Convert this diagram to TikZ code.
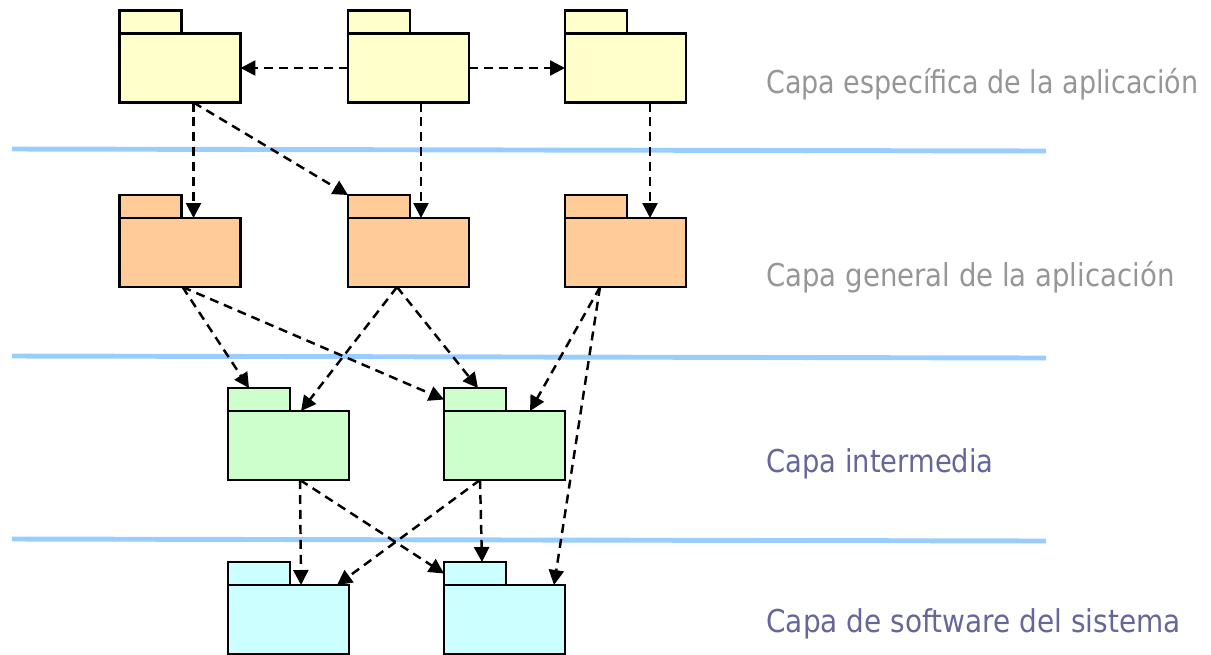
\documentclass[tikz,border=0pt]{standalone}
\usepackage{fontspec}
\newfontfamily\labfont[FakeStretch=0.87]{DejaVu Sans}
\usetikzlibrary{arrows.meta,calc}
\definecolor{pkyel}{HTML}{FFFFCC}
\definecolor{pkora}{HTML}{FFCC99}
\definecolor{pkgrn}{HTML}{CCFFCC}
\definecolor{pkcyn}{HTML}{CCFFFF}
\definecolor{layerblue}{HTML}{99CCFF}
\definecolor{labgray}{HTML}{969696}
\definecolor{labpurple}{HTML}{666699}
\begin{document}
\begin{tikzpicture}[x=0.02cm,y=-0.02cm,
  body/.style={draw=black, line width=1.3pt, minimum width=2.42cm, minimum height=1.38cm, inner sep=0pt, outer sep=0pt},
  tab/.style={draw=black, line width=1.3pt, minimum width=1.24cm, minimum height=0.46cm, inner sep=0pt, outer sep=0pt, anchor=south west},
  dep/.style={line width=1.4pt, dash pattern=on 0.18cm off 0.12cm, -{Triangle[length=0.3cm,width=0.3cm]}},
  layer/.style={draw=layerblue, line width=2.8pt},
  lab/.style={anchor=base west, inner sep=0pt, font={\labfont\fontsize{17.9pt}{21pt}\selectfont}}]
\useasboundingbox (0,0) rectangle (1211,654);
% layer separators
\coordinate (l1a) at (12,149); \coordinate (l1b) at (1046,151);
\coordinate (l2a) at (12,356); \coordinate (l2b) at (1046,358);
\coordinate (l3a) at (12,539); \coordinate (l3b) at (1046,541);
\draw[layer] (l1a) -- (l1b);
\draw[layer] (l2a) -- (l2b);
\draw[layer] (l3a) -- (l3b);
% row 1
\node[body, fill=pkyel] (a1) at (180,68) {};
\node[tab, fill=pkyel] (a1t) at (a1.north west) {};
\node[body, fill=pkyel] (a2) at (408.5,68) {};
\node[tab, fill=pkyel] (a2t) at (a2.north west) {};
\node[body, fill=pkyel] (a3) at (625.5,68) {};
\node[tab, fill=pkyel] (a3t) at (a3.north west) {};
% row 2
\node[body, fill=pkora] (b1) at (180,252.5) {};
\node[tab, fill=pkora] (b1t) at (b1.north west) {};
\node[body, fill=pkora] (b2) at (408.5,252.5) {};
\node[tab, fill=pkora] (b2t) at (b2.north west) {};
\node[body, fill=pkora] (b3) at (625.5,252.5) {};
\node[tab, fill=pkora] (b3t) at (b3.north west) {};
% row 3
\node[body, fill=pkgrn] (c1) at (288.5,445.5) {};
\node[tab, fill=pkgrn] (c1t) at (c1.north west) {};
\node[body, fill=pkgrn] (c2) at (504.5,445.5) {};
\node[tab, fill=pkgrn] (c2t) at (c2.north west) {};
% row 4
\node[body, fill=pkcyn] (d1) at (288.5,619.5) {};
\node[tab, fill=pkcyn] (d1t) at (d1.north west) {};
\node[body, fill=pkcyn] (d2) at (504.5,619.5) {};
\node[tab, fill=pkcyn] (d2t) at (d2.north west) {};
% dependencies
\draw[dep] (a2.west) -- (a1.east);
\draw[dep] (a2.east) -- (a3.west);
\draw[dep] ($(a1.south west)+(74,0)$) -- ($(b1.north west)+(74,0)$);
\draw[dep] ($(a1.south west)+(74,0)$) -- (b2t.north west);
\draw[dep] ($(a2.south west)+(73,0)$) -- ($(b2.north west)+(73,0)$);
\draw[dep] ($(a3.south west)+(85,0)$) -- ($(b3.north west)+(85,0)$);
\draw[dep] ($(b1.south west)+(63,0)$) -- ($(c1t.north west)+(21,0)$);
\draw[dep] ($(b1.south west)+(63,0)$) -- (c2t.west);
\draw[dep] ($(b2.south west)+(49,0)$) -- ($(c1.north west)+(73,0)$);
\draw[dep] ($(b2.south west)+(49,0)$) -- ($(c2t.north west)+(34,0)$);
\draw[dep] ($(b3.south west)+(35,0)$) -- ($(c2.north west)+(86,0)$);
\draw[dep] ($(b3.south west)+(35,0)$) -- ($(d2.north west)+(110,0)$);
\draw[dep] ($(c1.south west)+(72,0)$) -- ($(d1.north west)+(73,0)$);
\draw[dep] ($(c1.south west)+(72,0)$) -- (d2t.west);
\draw[dep] ($(c2.south west)+(36,0)$) -- ($(d1.north west)+(109,0)$);
\draw[dep] ($(c2.south west)+(36,0)$) -- ($(d2t.north west)+(38,0)$);
% labels
\node[lab, text=labgray] (t1) at (766,93) {\scalebox{0.986}[1]{Capa específica de la aplicación}};
\node[lab, text=labgray] (t2) at (766,286) {\scalebox{1.007}[1]{Capa general de la aplicación}};
\node[lab, text=labpurple] (t3) at (766,472) {Capa intermedia};
\node[lab, text=labpurple] (t4) at (766,632) {\scalebox{1.022}[1]{Capa de software del sistema}};
\end{tikzpicture}
\end{document}
